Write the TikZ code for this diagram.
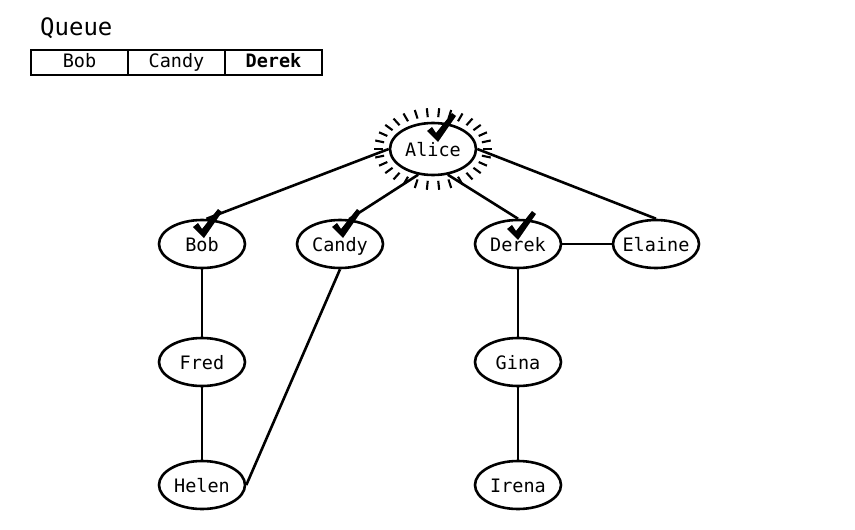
\documentclass[tikz,border=0pt]{standalone}
\usepackage{fontspec}
\setmonofont{DejaVu Sans Mono}
\usetikzlibrary{shapes.geometric,positioning}
\tikzset{
  vertex/.style={ellipse, draw, fill=white, line width=2.6pt, minimum width=86pt,
    minimum height=48pt, inner xsep=-5pt, inner ysep=0pt, text height=15pt, text depth=1pt},
  edge/.style={line width=2.6pt},
  qcell/.style={draw, line width=2.4pt, minimum width=97pt, minimum height=25pt,
    inner sep=0pt, outer sep=0pt, text height=12.5pt, text depth=3.5pt},
  donemark/.pic={\fill (-10,-8) -- (-5,-12) -- (-1,-6) -- (15,-26) -- (19,-23) -- (1,3) -- cycle;}
}
\begin{document}
\begin{tikzpicture}[x=1pt, y=-1pt, font=\ttfamily\fontsize{18.5}{21}\selectfont]
  \useasboundingbox (0,0) rectangle (855,530);
  % queue
  \node[anchor=base west, inner sep=0pt, font=\ttfamily\fontsize{24}{28}\selectfont] (qlabel) at (40,35) {Queue};
  \node[qcell, anchor=west] (qbob) at (31,62.5) {Bob};
  \node[qcell, right=0pt of qbob] (qcandy) {Candy};
  \node[qcell, right=0pt of qcandy] (qderek) {\bfseries Derek};
  % graph
  \node[vertex, minimum height=52pt] (alice) at (433,149) {Alice};
  \node[vertex] (bob) at (202,244) {Bob};
  \node[vertex] (candy) at (340,244) {Candy};
  \node[vertex] (derek) at (518,244) {Derek};
  \node[vertex] (elaine) at (656,244) {Elaine};
  \node[vertex] (fred) at (202,362) {Fred};
  \node[vertex] (gina) at (518,362) {Gina};
  \node[vertex] (helen) at (202,485) {Helen};
  \node[vertex] (irena) at (518,485) {Irena};
  \draw[edge] (alice.west) -- (bob.80);
  \draw[edge] (alice.240) -- (candy.70);
  \draw[edge] (alice.300) -- (derek.north);
  \draw[edge] (alice.east) -- (elaine.north);
  \draw[edge] (derek) -- (elaine);
  \draw[edge] (bob) -- (fred);
  \draw[edge] (fred) -- (helen);
  \draw[edge] (candy.south) -- (helen.east);
  \draw[edge] (derek) -- (gina);
  \draw[edge] (gina) -- (irena);
  % rays round the current node
  \begin{scope}[shift={(alice.center)}]
    \foreach \a in {0,12,...,348}
      \draw[line width=2.1pt] ({50*cos(\a)},{32*sin(\a)}) -- ({59*cos(\a)},{41*sin(\a)});
  \end{scope}
  % visited marks
  \pic at (437,139) {donemark};
  \pic at (203,235) {donemark};
  \pic at (342,235) {donemark};
  \pic at (517,237) {donemark};
\end{tikzpicture}
\end{document}
